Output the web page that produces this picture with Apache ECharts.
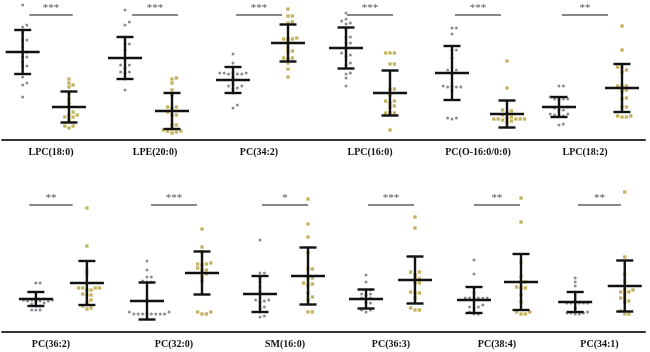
<!DOCTYPE html>
<html>
<head>
<meta charset="utf-8">
<script src="https://cdn.jsdelivr.net/npm/echarts@6/dist/echarts.min.js"></script>
<style>
  html, body { margin: 0; background: #fff; }
  #chart { width: 650px; height: 352px; }
</style>
</head>
<body>
<div id="chart"></div>
<script>
// lipid names, one per panel (row 1 then row 2)
const lipids = ["LPC(18:0)", "LPE(20:0)", "PC(34:2)", "LPC(16:0)", "PC(O-16:0/0:0)", "LPC(18:2)",
  "PC(36:2)", "PC(32:0)", "SM(16:0)", "PC(36:3)", "PC(38:4)", "PC(34:1)"];
const stars = ["***", "***", "***", "***", "***", "**", "**", "***", "*", "***", "**", "**"];

// relative levels, gray group (circles)
const grayVals = [
  [135, 115, 113, 107, 100, 100, 93, 88, 88, 83, 83, 78, 74, 74, 63, 57, 55, 43],
  [130, 118, 115, 103, 96, 96, 90, 82, 75, 75, 72, 68, 67, 68, 61, 50],
  [86, 77, 73, 67, 66, 66, 67, 66, 67, 67, 63, 54, 54, 52, 56, 51, 47, 35, 32],
  [127, 121, 119, 117, 116, 111, 103, 103, 97, 97, 92, 87, 85, 84, 77, 75, 67, 66, 62, 54],
  [112, 112, 106, 90, 90, 82, 70, 70, 67, 54, 53, 53, 53, 54, 50, 22, 21, 22],
  [54, 54, 43, 41, 41, 41, 41, 33, 32, 30, 30, 26, 25, 24, 24, 26, 16, 15],
  [49, 49, 32, 31, 31, 31, 32, 32, 31, 33, 29, 28, 26, 26, 22, 22, 22],
  [71, 62, 55, 55, 50, 51, 50, 18, 18, 18, 18, 18, 18, 18, 18, 20, 20],
  [92, 59, 59, 54, 50, 45, 40, 32, 31, 30, 32, 25, 24, 20, 15, 16],
  [57, 50, 42, 42, 38, 37, 38, 34, 34, 33, 29, 29, 24, 22, 20, 22],
  [72, 58, 44, 39, 34, 34, 34, 34, 34, 34, 25, 24, 25, 27, 20, 18, 18],
  [54, 50, 46, 40, 29, 29, 29, 29, 29, 29, 24, 19, 18, 18, 19, 19, 20]
];
// relative levels, gold group (squares)
const goldVals = [
  [61, 57, 55, 53, 47, 41, 37, 33, 28, 25, 25, 23, 23, 20, 14, 12, 14],
  [62, 61, 57, 50, 45, 33, 32, 33, 28, 25, 25, 15, 15, 11, 9, 8, 9, 10, 7],
  [131, 124, 124, 118, 117, 102, 101, 101, 101, 97, 89, 88, 92, 82, 82, 81, 77, 71, 63],
  [87, 87, 87, 76, 76, 51, 51, 45, 39, 39, 37, 34, 33, 27, 27, 27, 10],
  [79, 52, 30, 29, 27, 25, 23, 21, 21, 21, 21, 21, 19, 18, 20, 22],
  [114, 90, 73, 70, 68, 73, 54, 54, 54, 50, 49, 41, 42, 33, 33, 24, 23, 23, 24],
  [124, 86, 62, 58, 44, 44, 44, 42, 42, 44, 37, 37, 38, 32, 30, 24, 23, 26],
  [103, 85, 80, 68, 69, 67, 68, 64, 62, 58, 62, 55, 51, 20, 18, 18, 20],
  [133, 108, 95, 79, 63, 63, 54, 54, 47, 48, 49, 39, 35, 32, 20, 20],
  [115, 104, 60, 60, 57, 53, 53, 49, 49, 40, 39, 39, 34, 24, 22, 22],
  [134, 110, 70, 55, 50, 50, 45, 44, 44, 37, 30, 20, 20, 18, 18],
  [140, 75, 58, 51, 42, 42, 40, 40, 38, 34, 34, 31, 30, 21, 18, 18]
];
// mean and SD as drawn
const grayMean = [88, 82, 60, 92, 67, 33, 33, 31, 38, 33, 32, 30];
const graySd = [22, 21, 13, 20.5, 27, 10, 7, 18.5, 18, 9.5, 13, 10];
const goldMean = [33, 29, 97, 47, 26, 52, 49, 59, 56, 52, 50, 46];
const goldSd = [15.5, 18, 18.5, 22.5, 13.5, 24, 22, 21.5, 28.5, 23.5, 28, 25.5];

// layout
const panelCenter = [48, 155, 259, 370, 478, 585, 48, 174, 285, 391, 497, 603];
const groupOffset = [[-30, 19], [-30, 17], [-26, 29], [-24, 20], [-26, 29], [-26, 37],
  [-16, 38], [-27, 28], [-25, 23], [-25, 24], [-23, 24], [-26, 27]];
const rowTop = [0, 192];
const rowH = 140;
const yMax = 140;
const bracketY = [125, 127];
const GRAY = "#6e6e7a";
const GOLD = "#b59f36";

// column scatter spread, like a beeswarm
function swarm(vals, center) {
  const placed = [];
  const sorted = vals.slice().sort((a, b) => a - b);
  const step = 4.4;
  for (const v of sorted) {
    for (let k = 0; k < 20; k++) {
      const off = (k % 2 ? 1 : -1) * Math.ceil(k / 2) * step;
      const hit = placed.some(p => Math.abs(p[1] - v) < 4 && Math.abs(p[0] - (center + off)) < step - 0.1);
      if (!hit) { placed.push([center + off, v]); break; }
    }
  }
  return placed;
}

function renderErr(params, api) {
  const x = api.value(0), m = api.value(1), s = api.value(2);
  const c = api.coord([x, m]);
  const t = api.coord([x, m + s]);
  const b = api.coord([x, m - s]);
  const st = { stroke: "#111", lineWidth: 2.4 };
  return {
    type: "group",
    children: [
      { type: "line", shape: { x1: c[0] - 17, y1: c[1], x2: c[0] + 17, y2: c[1] }, style: st },
      { type: "line", shape: { x1: t[0], y1: t[1], x2: b[0], y2: b[1] }, style: st },
      { type: "line", shape: { x1: t[0] - 8.5, y1: t[1], x2: t[0] + 8.5, y2: t[1] }, style: st },
      { type: "line", shape: { x1: b[0] - 8.5, y1: b[1], x2: b[0] + 8.5, y2: b[1] }, style: st }
    ]
  };
}

function renderSig(params, api) {
  const a = api.coord([api.value(0), api.value(2)]);
  const b = api.coord([api.value(1), api.value(2)]);
  const txt = stars[api.value(3)];
  return {
    type: "group",
    children: [
      { type: "line", shape: { x1: a[0], y1: a[1], x2: b[0], y2: b[1] }, style: { stroke: "#111", lineWidth: 1.2 } },
      { type: "text", x: (a[0] + b[0]) / 2, y: a[1] - 1.5,
        style: { text: txt, fill: "#555", font: "11px 'Liberation Serif'", align: "center", verticalAlign: "bottom" } }
    ]
  };
}

const grids = [], xAxes = [], yAxes = [], series = [];
lipids.forEach((name, i) => {
  const row = i < 6 ? 0 : 1;
  grids.push({ left: panelCenter[i] - 54, width: 108, top: rowTop[row], height: rowH });
  xAxes.push({
    gridIndex: i, type: "value", min: -54, max: 54,
    axisLine: { show: false }, axisTick: { show: false }, splitLine: { show: false },
    axisLabel: {
      customValues: [0], margin: 7, formatter: () => name,
      fontFamily: "Liberation Serif", fontWeight: "bold", fontSize: 10, color: "#111"
    }
  });
  yAxes.push({ gridIndex: i, type: "value", min: 0, max: yMax, show: false });
  const [go, du] = groupOffset[i];
  series.push({
    type: "scatter", xAxisIndex: i, yAxisIndex: i, symbol: "circle", symbolSize: 3,
    itemStyle: { color: GRAY }, data: swarm(grayVals[i], go), silent: true, clip: false
  });
  series.push({
    type: "scatter", xAxisIndex: i, yAxisIndex: i, symbol: "rect", symbolSize: 3.3,
    itemStyle: { color: GOLD }, data: swarm(goldVals[i], du), silent: true, clip: false
  });
  series.push({
    type: "custom", xAxisIndex: i, yAxisIndex: i, renderItem: renderErr, silent: true, clip: false,
    data: [[go, grayMean[i], graySd[i]], [du, goldMean[i], goldSd[i]]], z: 5
  });
  series.push({
    type: "custom", xAxisIndex: i, yAxisIndex: i, renderItem: renderSig, silent: true, clip: false,
    data: [[-23, 23, bracketY[row], i]]
  });
});

// baseline of each row
[0, 1].forEach(r => {
  const gi = grids.length;
  grids.push({ left: 2, right: 5, top: rowTop[r], height: rowH });
  xAxes.push({
    gridIndex: gi, type: "value", min: 0, max: 1,
    axisLine: { lineStyle: { color: "#333", width: 2 } },
    axisTick: { show: false }, axisLabel: { show: false }, splitLine: { show: false }
  });
  yAxes.push({ gridIndex: gi, type: "value", show: false });
});

const chart = echarts.init(document.getElementById("chart"));
chart.setOption({
  animation: false,
  grid: grids,
  xAxis: xAxes,
  yAxis: yAxes,
  series: series
});
</script>
</body>
</html>
